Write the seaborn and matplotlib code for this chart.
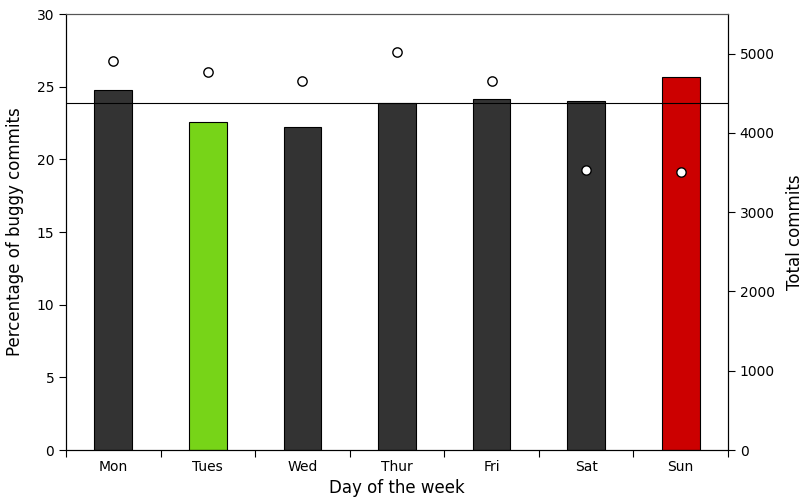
import matplotlib
matplotlib.use("Agg")
import matplotlib.pyplot as plt
import seaborn as sns
import numpy as np
import pandas as pd

days = ["Mon", "Tues", "Wed", "Thur", "Fri", "Sat", "Sun"]
buggy_pct = [24.77, 22.57, 22.23, 23.88, 24.16, 24.02, 25.67]
total_commits = [4912, 4773, 4660, 5025, 4660, 3526, 3501]
average_pct = 23.85
bar_colors = ["#333333", "#77d418", "#333333", "#333333", "#333333", "#333333", "#cc0000"]

sns.set_style("ticks")
plt.rcParams['font.family'] = ['DejaVu Sans']
for k in ["text.color", "axes.labelcolor", "xtick.color", "ytick.color", "axes.edgecolor"]:
    plt.rcParams[k] = "black"

df = pd.DataFrame({"day": days, "pct": buggy_pct, "total": total_commits})

fig = plt.figure(figsize=(8.06, 5.01), dpi=100)
ax = fig.add_axes([66/806, 51/501, (728-66)/806, (450-14)/501])

sns.barplot(data=df, x="day", y="pct", hue="day", palette=bar_colors, order=days,
            width=0.4, edgecolor="black", linewidth=0.8, legend=False, ax=ax, saturation=1)
ax.axhline(average_pct, color="black", linewidth=0.8, zorder=1.5)
ax.set_ylim(0, 30)
ax.set_xlim(-0.5, 6.5)
ax.set_yticks([0, 5, 10, 15, 20, 25, 30])
ax.set_xticks(np.arange(-0.5, 7.0, 1.0))
ax.set_xticklabels([])
ax.set_xticks(np.arange(0, 7), minor=True)
ax.set_xticklabels(days, minor=True)
ax.tick_params(axis="x", which="minor", length=0, labelsize=10, pad=7)
ax.tick_params(axis="x", which="major", length=5, direction="out")
ax.tick_params(axis="y", labelsize=10, length=5)
ax.set_xlabel("Day of the week", fontsize=12)
ax.set_ylabel("Percentage of buggy commits", fontsize=12, labelpad=9)

ax2 = ax.twinx()
sns.scatterplot(x=np.arange(7), y=df["total"], ax=ax2, marker="o", s=45,
                facecolor="white", edgecolor="black", linewidth=1.0, zorder=5)
ax2.set_ylim(0, 5500)
ax2.set_yticks([0, 1000, 2000, 3000, 4000, 5000])
ax2.tick_params(axis="y", labelsize=10, length=5)
ax2.set_ylabel("Total commits", fontsize=12, labelpad=8)
ax2.set_xlim(-0.5, 6.5)

for a in (ax, ax2):
    for s in a.spines.values():
        s.set_visible(True)
        s.set_linewidth(0.8)
        s.set_color("black")
    a.spines["top"].set_color("#555555")

fig.savefig("out.png", dpi=100)
